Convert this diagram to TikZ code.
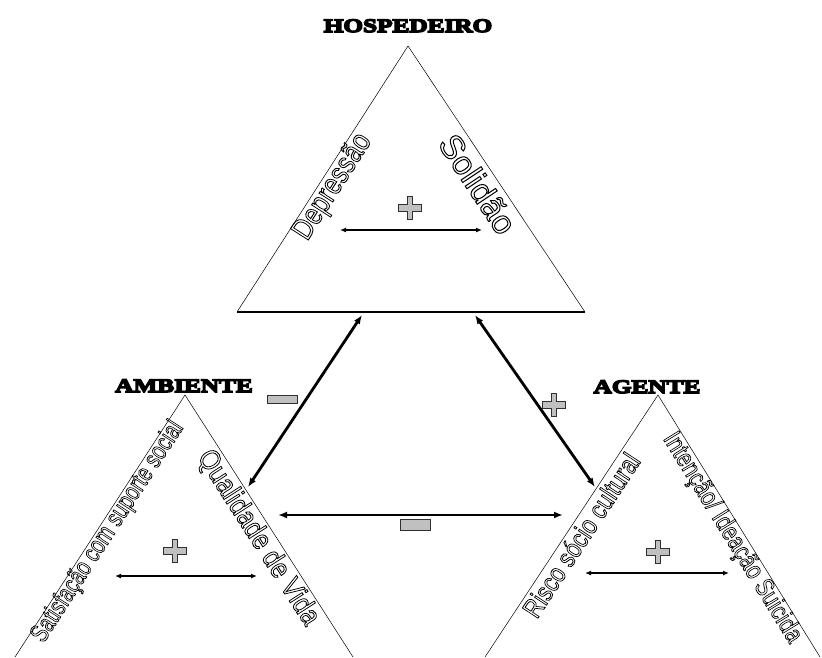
\documentclass[tikz,border=0pt]{standalone}
\usepackage{fontspec}
\setmainfont{Liberation Sans}
\newfontfamily\titlefont{Liberation Serif}[FakeStretch=1.33]
\usepackage{graphicx}
\usepackage{xcolor}
\usepackage{tikz}
\usetikzlibrary{arrows.meta}
\definecolor{signgray}{HTML}{C0C0C0}
\definecolor{signline}{HTML}{303030}
% hollow (outlined) text squeezed to a given length and height
\newcommand{\hollow}[3]{\resizebox{#1}{#2}{\special{pdf:literal direct 1 Tr 0.6 w}#3\special{pdf:literal direct 0 Tr}}}
% heavy (filled and stroked) title text
\newcommand{\heavy}[1]{\special{pdf:literal direct 2 Tr 1.5 w}#1\special{pdf:literal direct 0 Tr}}
\tikzset{
  side/.style={line width=0.5pt},
  base/.style={line width=1.8pt},
  title/.style={font=\titlefont\bfseries\fontsize{19}{19}\selectfont, anchor=base, inner sep=0pt},
  sidetext/.style={inner sep=0pt, font=\fontsize{20}{22}\selectfont},
  rel/.style={{Latex[length=9pt,width=7pt]}-{Latex[length=9pt,width=7pt]}, line width=2.8pt},
  innerrel/.style={{Latex[length=6pt,width=5pt]}-{Latex[length=6pt,width=5pt]}, line width=#1},
  innerrel/.default=1.4pt,
  minussign/.style={draw=signline, fill=signgray, line width=0.8pt, inner sep=0pt, minimum width=30pt, minimum height=#1},
  minussign/.default=8pt,
  pics/plussign/.style={code={
    \draw[draw=signline, fill=signgray, line width=0.8pt]
      (-11.5,-3.5) -- (-2.8,-3.5) -- (-2.8,-11.5) -- (2.8,-11.5) -- (2.8,-3.5) -- (11.5,-3.5)
      -- (11.5,3.5) -- (2.8,3.5) -- (2.8,11.5) -- (-2.8,11.5) -- (-2.8,3.5) -- (-11.5,3.5) -- cycle;
  }},
}
\begin{document}
\begin{tikzpicture}[x=1pt,y=-1pt]
  \useasboundingbox (0,0) rectangle (822,657);

  % corners of the three triangles
  \coordinate (hospTop) at (408,46);
  \coordinate (hospL) at (237,312);
  \coordinate (hospR) at (585,312);
  \coordinate (ambTop) at (185,395);
  \coordinate (ambL) at (15,657);
  \coordinate (ambR) at (353,657);
  \coordinate (agTop) at (658,395);
  \coordinate (agL) at (485,657);
  \coordinate (agR) at (820,657);

  % titles
  \node[title] (hosp) at (408,32) {\heavy{HOSPEDEIRO}};
  \node[title] (amb) at (184,392) {\heavy{AMBIENTE}};
  \node[title] (ag) at (647,393) {\heavy{AGENTE}};

  % triangles
  \draw[side] (hospL) -- (hospTop) -- (hospR);
  \draw[base] (hospL) -- (hospR);
  \draw[side] (ambL) -- (ambTop) -- (ambR);
  \draw[side] (agL) -- (agTop) -- (agR);

  % texts along the sides
  \node[sidetext, rotate=57.3] (depr) at (333,187) {\hollow{120pt}{22pt}{Depressão}};
  \node[sidetext, rotate=-56.4] (soli) at (478,184) {\hollow{112pt}{24pt}{Solidão}};
  \node[sidetext, rotate=57.0] (sati) at (108,532) {\hollow{258pt}{19pt}{Satisfação com suporte social}};
  \node[sidetext, rotate=-57.3] (qual) at (258,538) {\hollow{202pt}{21pt}{Qualidade de Vida}};
  \node[sidetext, rotate=56.6] (risc) at (581,535) {\hollow{190pt}{20pt}{Risco sócio cultural}};
  \node[sidetext, rotate=-58.3] (inte) at (732,538) {\hollow{242pt}{19pt}{Intenção/ Ideação Suicida}};

  % relations inside each triangle
  \coordinate (hospA) at (340,230);
  \coordinate (hospB) at (482,230);
  \draw[innerrel=1.8pt] (hospA) -- (hospB);
  \pic (hospPlus) at (410,208) {plussign};

  \coordinate (ambA) at (115,576);
  \coordinate (ambB) at (257,576);
  \draw[innerrel=1.2pt] (ambA) -- (ambB);
  \pic (ambPlus) at (175,551) {plussign};

  \coordinate (agA) at (585,573);
  \coordinate (agB) at (729,573);
  \draw[innerrel=2.4pt] (agA) -- (agB);
  \pic (agPlus) at (658,552) {plussign};

  % relations between the triangles
  \coordinate (hospIn1) at (362,315);
  \coordinate (hospIn2) at (475,315);
  \coordinate (ambIn1) at (248,487);
  \coordinate (ambIn2) at (278,515);
  \coordinate (agIn1) at (595,487);
  \coordinate (agIn2) at (563,515);
  \draw[rel] (hospIn1) -- (ambIn1);
  \draw[rel] (hospIn2) -- (agIn1);
  \draw[rel] (ambIn2) -- (agIn2);

  \node[minussign] (hospAmb) at (282,399) {};
  \pic (hospAg) at (554,405) {plussign};
  \node[minussign=11pt] (ambAg) at (415,525) {};
\end{tikzpicture}
\end{document}
